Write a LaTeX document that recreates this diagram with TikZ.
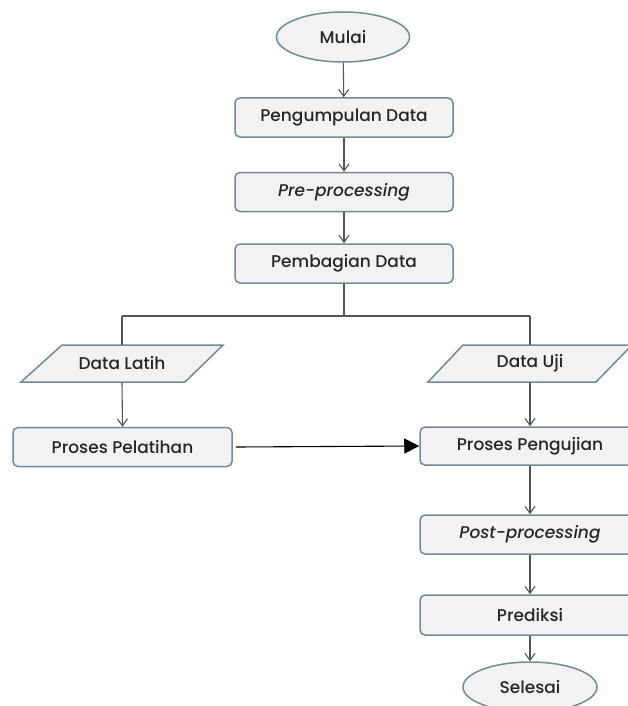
\documentclass[tikz,border=0pt]{standalone}
\usepackage{fontspec}
\setmainfont{Poppins}[UprightFont={* Medium},ItalicFont={* Medium Italic}]
\usetikzlibrary{arrows.meta,shapes.geometric}
\definecolor{bordc}{HTML}{6F8D96}
\definecolor{fillc}{HTML}{F2F2F2}
\definecolor{linec}{HTML}{555555}
\definecolor{txtc}{HTML}{262626}
\begin{document}
\begin{tikzpicture}[x=1pt,y=-1pt,
  every node/.style={font=\fontsize{17}{20}\selectfont, text=txtc},
  procbox/.style={draw=bordc, fill=fillc, line width=1.5pt, rounded corners=5pt,
    rectangle, minimum width=218pt, minimum height=39pt, inner sep=0pt},
  termnode/.style={draw=bordc, fill=fillc, line width=1.5pt, ellipse,
    minimum width=133pt, minimum height=50pt, inner sep=0pt},
  iobox/.style={draw=bordc, fill=fillc, line width=1.5pt, line join=miter},
  anchorbox/.style={draw=none, fill=none, rectangle, minimum width=120pt, minimum height=37pt, inner sep=0pt},
  flow/.style={draw=linec, line width=1.1pt, -{Straight Barb[length=7pt,width=10pt,line width=1.1pt]}},
  plain/.style={draw=linec, line width=1.1pt},
  bigflow/.style={draw=black, line width=1.1pt, -{Triangle[length=15pt,width=15pt]}}]
\useasboundingbox (0,0) rectangle (628,706);
\clip (0,0) rectangle (628,706);
\fill[white] (0,0) rectangle (628,706);

% central column
\node[termnode] (mulai) at (343,37) {Mulai};
\node[procbox] (kumpul) at (344,117.5) {Pengumpulan Data};
\node[procbox] (pre) at (344,192) {\itshape Pre-processing};
\node[procbox] (bagi) at (344,263.5) {Pembagian Data};

% input/output parallelograms
\draw[iobox] (62,345) -- (223,345) -- (185,382) -- (21,382) -- cycle;
\node[anchorbox] (latih) at (122,363.5) {Data Latih};
\draw[iobox] (463,345) -- (632,345) -- (596,382) -- (428,382) -- cycle;
\node[anchorbox] (uji) at (530,363.5) {Data Uji};

\node[procbox, minimum width=219pt] (pelatihan) at (122.5,447) {Proses Pelatihan};
\node[procbox, minimum width=220pt, minimum height=38pt] (pengujian) at (530,446) {Proses Pengujian};
\node[procbox, minimum width=220pt] (post) at (530,534.5) {\itshape Post-processing};
\node[procbox, minimum width=220pt, minimum height=40pt] (prediksi) at (530,615) {Prediksi};
\node[termnode, minimum width=134pt] (selesai) at (530,687) {Selesai};

\coordinate (split) at (344,316);
\coordinate (splitL) at (122,316);
\coordinate (splitR) at (530,316);

% connectors
\draw[flow] (mulai) -- (kumpul);
\draw[flow] (kumpul) -- (pre);
\draw[flow] (pre) -- (bagi);
\draw[plain] (bagi.south) -- (split);
\draw[plain] (splitL) -- (splitR);
\draw[plain] (splitL) -- (latih.north);
\draw[plain] (splitR) -- (uji.north);
\draw[flow] (latih.south) -- (pelatihan.north);
\draw[flow] (uji.south) -- (pengujian.north);
\draw[bigflow] ([xshift=3pt]pelatihan.east) -- (pengujian.west);
\draw[flow] (pengujian) -- (post);
\draw[flow] (post) -- (prediksi);
\draw[flow] (prediksi) -- (selesai);
\end{tikzpicture}
\end{document}
